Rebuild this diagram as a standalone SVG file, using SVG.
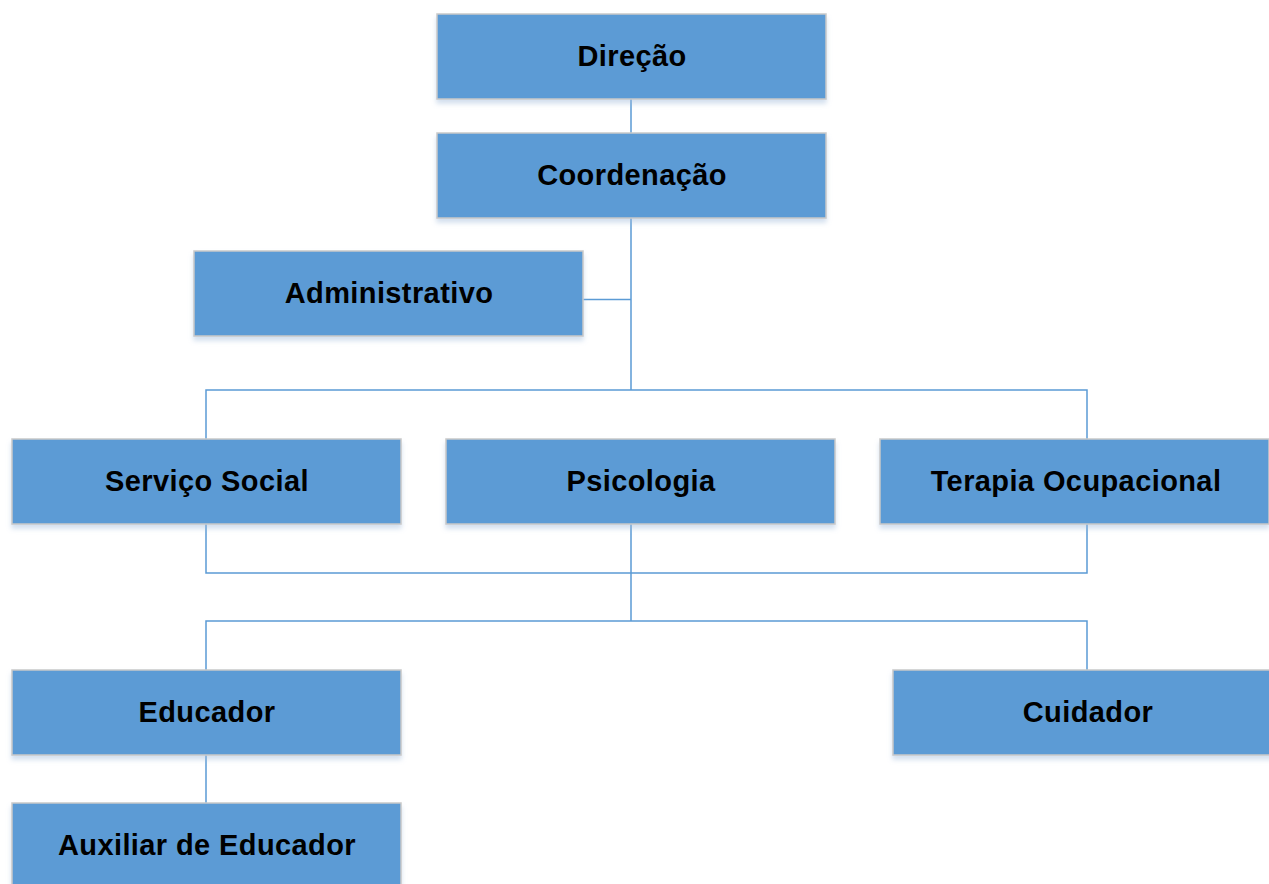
<svg xmlns="http://www.w3.org/2000/svg" width="1269" height="884" viewBox="0 0 1269 884">
<style>
.box{fill:#5B9BD5;stroke:#C9C9C9;stroke-width:1.5;filter:url(#sh)}
.lbl{font-family:"Liberation Sans",Arial,sans-serif;font-weight:bold;font-size:29px;letter-spacing:0.4px;fill:#000;text-anchor:middle}
.ln{fill:none;stroke:#5B9BD5;stroke-width:1.5}
</style>
<defs>
<filter id="sh" x="-5%" y="-10%" width="110%" height="135%">
<feGaussianBlur in="SourceAlpha" stdDeviation="2.5"/>
<feOffset dx="0" dy="4" result="b"/>
<feFlood flood-color="#9DB9DA" flood-opacity="0.45"/>
<feComposite in2="b" operator="in"/>
<feMerge><feMergeNode/><feMergeNode in="SourceGraphic"/></feMerge>
</filter>
</defs>
<rect width="1269" height="884" fill="#fff"/>
<g id="connectors">
<path class="ln" d="M631 99V133M631 218V390M583 299.5H631M206 439V390H1087V439M206 524V573H1087V524M631 524V621M206 670V621H1087V670M206 755V803"/>
</g>
<g id="direcao"><rect class="box" x="437" y="14" width="389" height="85"/><text class="lbl" x="632" y="66">Direção</text></g>
<g id="coordenacao"><rect class="box" x="437" y="133" width="389" height="85"/><text class="lbl" x="632" y="185">Coordenação</text></g>
<g id="administrativo"><rect class="box" x="194" y="251" width="389" height="85"/><text class="lbl" x="389" y="303">Administrativo</text></g>
<g id="servico-social"><rect class="box" x="12" y="439" width="389" height="85"/><text class="lbl" x="207" y="491">Serviço Social</text></g>
<g id="psicologia"><rect class="box" x="446" y="439" width="389" height="85"/><text class="lbl" x="641" y="491">Psicologia</text></g>
<g id="terapia-ocupacional"><rect class="box" x="880" y="439" width="389" height="85"/><text class="lbl" x="1076" y="491">Terapia Ocupacional</text></g>
<g id="educador"><rect class="box" x="12" y="670" width="389" height="85"/><text class="lbl" x="207" y="722">Educador</text></g>
<g id="cuidador"><rect class="box" x="893" y="670" width="389" height="85"/><text class="lbl" x="1088" y="722">Cuidador</text></g>
<g id="auxiliar-de-educador"><rect class="box" x="12" y="803" width="389" height="85"/><text class="lbl" x="207" y="855">Auxiliar de Educador</text></g>
</svg>
